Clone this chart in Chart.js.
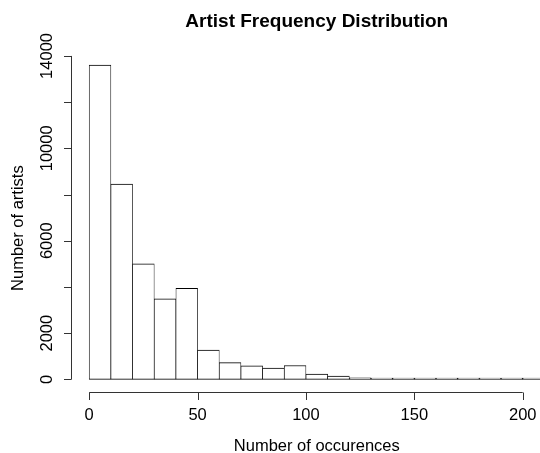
<!DOCTYPE html>
<html>
<head>
<meta charset="utf-8">
<script src="https://cdn.jsdelivr.net/npm/chart.js@4.4.1/dist/chart.umd.min.js"></script>
<style>
  html, body { margin: 0; padding: 0; background: #fff; }
  #wrap { width: 540px; height: 453px; overflow: hidden; }
</style>
</head>
<body>
<div id="wrap"><canvas id="hist" width="600" height="453"></canvas></div>
<script>
// histogram bins (width 10) and counts
const binStarts = [0, 10, 20, 30, 40, 50, 60, 70, 80, 90, 100, 110, 120, 130, 140, 150, 160, 170, 180, 190, 200];
const binWidth = 10;
const artistCounts = [13600, 8450, 5000, 3480, 3940, 1270, 720, 580, 490, 600, 230, 145, 70, 38, 22, 18, 12, 10, 6, 5, 3];

const xTicks = [0, 50, 100, 150, 200];
const yTicks = [0, 2000, 4000, 6000, 8000, 10000, 12000, 14000];
const yTickLabels = ["0", "2000", "", "6000", "", "10000", "", "14000"];

const titleText = "Artist Frequency Distribution";
const xTitle = "Number of occurences";
const yTitle = "Number of artists";

const FONT = "'Liberation Sans', Arial, Helvetica, sans-serif";

// R-style axes: lines only span the tick range, labels parallel to axis
const rAxes = {
  id: "rAxes",
  afterDraw(chart) {
    const { ctx, chartArea } = chart;
    const xs = chart.scales.x;
    const ys = chart.scales.y;
    ctx.save();
    ctx.strokeStyle = "#333";
    ctx.fillStyle = "#000";
    ctx.lineWidth = 1;

    // x axis
    const ay = Math.round(chartArea.bottom) + 0.5;
    ctx.beginPath();
    ctx.moveTo(xs.getPixelForValue(xTicks[0]), ay);
    ctx.lineTo(xs.getPixelForValue(xTicks[xTicks.length - 1]), ay);
    xTicks.forEach(v => {
      const px = Math.round(xs.getPixelForValue(v)) + 0.5;
      ctx.moveTo(px, ay);
      ctx.lineTo(px, ay + 7.5);
    });
    ctx.stroke();

    ctx.font = "16.5px " + FONT;
    ctx.textAlign = "center";
    ctx.textBaseline = "middle";
    xTicks.forEach(v => {
      ctx.fillText(String(v), xs.getPixelForValue(v), ay + 23);
    });

    // y axis
    const ax = Math.round(chartArea.left) + 0.5;
    ctx.beginPath();
    ctx.moveTo(ax, ys.getPixelForValue(yTicks[0]));
    ctx.lineTo(ax, ys.getPixelForValue(yTicks[yTicks.length - 1]));
    yTicks.forEach(v => {
      const py = Math.round(ys.getPixelForValue(v)) + 0.5;
      ctx.moveTo(ax, py);
      ctx.lineTo(ax - 7.5, py);
    });
    ctx.stroke();

    yTicks.forEach((v, i) => {
      if (!yTickLabels[i]) return;
      ctx.save();
      ctx.translate(ax - 24, ys.getPixelForValue(v));
      ctx.rotate(-Math.PI / 2);
      ctx.fillText(yTickLabels[i], 0, 0);
      ctx.restore();
    });

    // titles
    const midX = (chartArea.left + chartArea.right) / 2;
    const midY = (chartArea.top + chartArea.bottom) / 2;
    ctx.fillText(xTitle, midX, 446);

    ctx.save();
    ctx.translate(18, midY + 6);
    ctx.rotate(-Math.PI / 2);
    ctx.fillText(yTitle, 0, 0);
    ctx.restore();

    ctx.font = "bold 19px " + FONT;
    ctx.fillText(titleText, midX, 21.5);
    ctx.restore();
  }
};

new Chart(document.getElementById("hist"), {
  type: "bar",
  data: {
    datasets: [
      {
        data: binStarts.map((s, i) => ({ x: s + binWidth / 2, y: artistCounts[i] })),
        backgroundColor: "#fff",
        borderColor: "#000",
        borderWidth: { top: 1, bottom: 1, left: 0.7, right: 0.7 },
        borderSkipped: false,
        barPercentage: 1,
        categoryPercentage: 1,
        minBarLength: 1.2
      }
    ]
  },
  options: {
    responsive: false,
    devicePixelRatio: 1,
    animation: false,
    layout: {
      padding: { left: 71, right: 37.4, top: 52.4, bottom: 61.1 }
    },
    plugins: {
      legend: { display: false },
      tooltip: { enabled: false }
    },
    scales: {
      x: {
        type: "linear",
        offset: false,
        min: -8.4,
        max: 218.4,
        display: false,
        afterBuildTicks: s => { s.ticks = xTicks.map(v => ({ value: v })); }
      },
      y: {
        min: -544,
        max: 14153,
        display: false,
        afterBuildTicks: s => { s.ticks = yTicks.map(v => ({ value: v })); }
      }
    }
  },
  plugins: [rAxes]
});
</script>
</body>
</html>
